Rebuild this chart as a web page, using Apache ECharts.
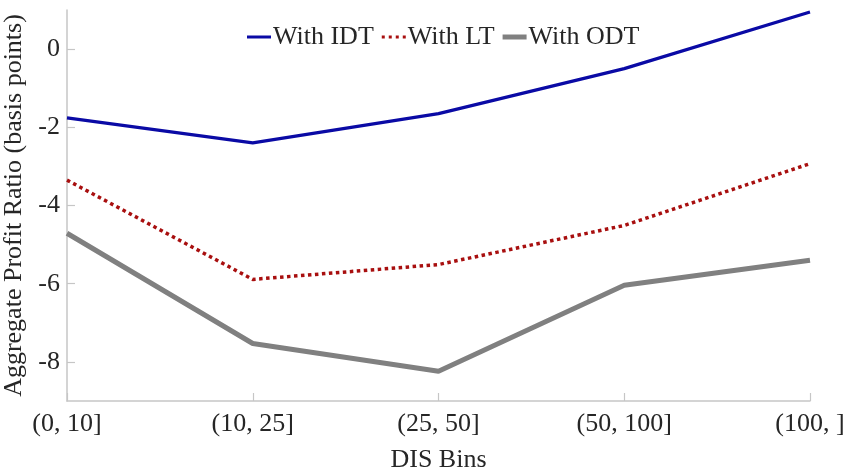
<!DOCTYPE html>
<html>
<head>
<meta charset="utf-8">
<script src="https://cdn.jsdelivr.net/npm/echarts@6/dist/echarts.min.js"></script>
<style>html,body{margin:0;padding:0;background:#fff}#c{width:846px;height:468px}</style>
</head>
<body>
<div id="c"></div>
<script>
const categories = ['(0, 10]', '(10, 25]', '(25, 50]', '(50, 100]', '(100, ]'];
const idt = [-1.76, -2.40, -1.65, -0.50, 0.95];
const lt = [-3.35, -5.89, -5.51, -4.51, -2.93];
const odt = [-4.71, -7.53, -8.24, -6.04, -5.40];
const seriesNames = ['With IDT', 'With LT', 'With ODT'];
const yTicks = [0, -2, -4, -6, -8];

const font = 'Liberation Serif';
const txt = '#262626';
const axisCol = '#c6c6c6';
const colors = ['#0a0aa5', '#a80f0f', '#808080'];
const icons = [
  'path://M0,1h24v3h-24z',
  'path://M0,1h3v3h-3z M7,1h3v3h-3z M14,1h3v3h-3z M21,1h3v3h-3z',
  'path://M0,0h24v5h-24z'
];
const chart = echarts.init(document.getElementById('c'));
chart.setOption({
  animation: false,
  textStyle: { fontFamily: font },
  legend: {
    top: 19, left: 242,
    itemWidth: 24, itemHeight: 5, itemGap: 8,
    textStyle: { fontFamily: font, fontSize: 26, color: txt, padding: [0, 0, 0, -3] },
    data: seriesNames.map((n, i) => ({ name: n, icon: icons[i], itemStyle: { color: colors[i] } }))
  },
  grid: { left: 67, right: 36, top: 10, bottom: 67, containLabel: false, outerBoundsMode: 'none' },
  xAxis: {
    type: 'category', data: categories, boundaryGap: false,
    name: 'DIS Bins', nameLocation: 'middle', nameGap: 46,
    nameTextStyle: { fontFamily: font, fontSize: 26, color: txt },
    axisLine: { onZero: false, lineStyle: { color: axisCol, width: 1.5 } },
    axisTick: { inside: true, length: 8, lineStyle: { color: axisCol, width: 1.2 } },
    axisLabel: { fontFamily: font, fontSize: 26, color: txt, margin: 10 },
    splitLine: { show: false }
  },
  yAxis: {
    type: 'value', min: -9, max: 1, interval: 1,
    name: 'Aggregate Profit Ratio (basis points)', nameLocation: 'middle', nameGap: 33,
    nameTextStyle: { fontFamily: font, fontSize: 26, color: txt },
    axisLine: { show: true, lineStyle: { color: axisCol, width: 1.5 } },
    axisTick: { show: true, inside: true, length: 8, customValues: yTicks, lineStyle: { color: axisCol, width: 1.2 } },
    axisLabel: { fontFamily: font, fontSize: 26, color: txt, margin: 7, customValues: yTicks },
    splitLine: { show: false }
  },
  series: [
    { name: seriesNames[0], type: 'line', data: idt, symbol: 'none',
      lineStyle: { color: colors[0], width: 3.2 }, itemStyle: { color: colors[0] } },
    { name: seriesNames[1], type: 'line', data: lt, symbol: 'none',
      lineStyle: { color: colors[1], width: 3.5, type: [3.5, 3.5] }, itemStyle: { color: colors[1] } },
    { name: seriesNames[2], type: 'line', data: odt, symbol: 'none',
      lineStyle: { color: colors[2], width: 5 }, itemStyle: { color: colors[2] } }
  ]
});
</script>
</body>
</html>
